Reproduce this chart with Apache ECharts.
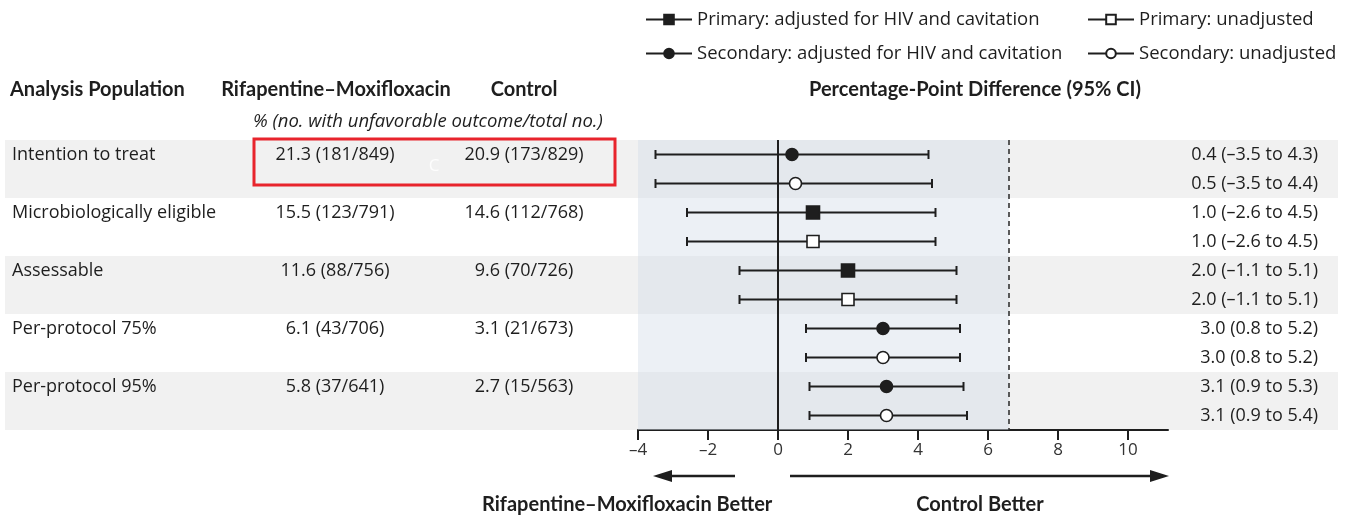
<!DOCTYPE html>
<html>
<head>
<meta charset="utf-8">
<script src="https://cdn.jsdelivr.net/npm/echarts@6/dist/echarts.min.js"></script>
<style>html,body{margin:0;padding:0;background:#fff}#c{width:1350px;height:522px}</style>
</head>
<body>
<div id="c"></div>
<script>
// ---- data ----
const populations = ['Intention to treat', 'Microbiologically eligible', 'Assessable', 'Per-protocol 75%', 'Per-protocol 95%'];
const rifaPct = [21.3, 15.5, 11.6, 6.1, 5.8];
const rifaEvents = [181, 123, 88, 43, 37];
const rifaTotal = [849, 791, 756, 706, 641];
const ctrlPct = [20.9, 14.6, 9.6, 3.1, 2.7];
const ctrlEvents = [173, 112, 70, 21, 15];
const ctrlTotal = [829, 768, 726, 673, 563];

const seriesNames = ['Primary: adjusted for HIV and cavitation', 'Primary: unadjusted', 'Secondary: adjusted for HIV and cavitation', 'Secondary: unadjusted'];
// estimate rows: two per population
const rowType = [2, 3, 0, 1, 0, 1, 2, 3, 2, 3];
const diff = [0.4, 0.5, 1.0, 1.0, 2.0, 2.0, 3.0, 3.0, 3.1, 3.1];
const lower = [-3.5, -3.5, -2.6, -2.6, -1.1, -1.1, 0.8, 0.8, 0.9, 0.9];
const upper = [4.3, 4.4, 4.5, 4.5, 5.1, 5.1, 5.2, 5.2, 5.3, 5.4];
const xTicks = [-4, -2, 0, 2, 4, 6, 8, 10];
const margin = 6.6;
const shadedBands = [0, 2, 4]; // population indices with grey background

// ---- layout ----
const FONT = '"Open Sans"';
const HFONT = 'Lato';
const GRID_LEFT = 638, GRID_TOP = 140, GRID_W = 530, GRID_H = 290;
const PX_PER_UNIT = 35;
const X_MIN = -4, X_MAX = X_MIN + GRID_W / PX_PER_UNIT;
const BAND_LEFT = 5, BAND_RIGHT = 1338;
const INK = '#1e1e1e';
const BODY = 18;

const dash = s => String(s).replace('-', '\u2013');
const fmt = v => dash(v.toFixed(1));
const rows = diff.map((_, i) => String(i));

const leftLabels = rows.map((r, i) => {
  if (i % 2) return '';
  const g = i / 2;
  return '{a|' + populations[g] + '}{b|' + rifaPct[g].toFixed(1) + ' (' + rifaEvents[g] + '/' + rifaTotal[g] + ')}{c|' +
    ctrlPct[g].toFixed(1) + ' (' + ctrlEvents[g] + '/' + ctrlTotal[g] + ')}';
});
const rightLabels = diff.map((d, i) => fmt(d) + ' (' + fmt(lower[i]) + ' to ' + fmt(upper[i]) + ')');

const markerDefs = [
  { symbol: 'rect', size: 13, fill: INK },
  { symbol: 'rect', size: 12, fill: '#fff' },
  { symbol: 'circle', size: 12, fill: INK },
  { symbol: 'circle', size: 12, fill: '#fff' }
];

const pointSeries = seriesNames.map((name, t) => ({
  name: name,
  type: 'line',
  z: 4,
  symbol: markerDefs[t].symbol,
  symbolSize: markerDefs[t].size,
  showAllSymbol: true,
  lineStyle: { opacity: 0 },
  itemStyle: { color: markerDefs[t].fill, borderColor: INK, borderWidth: 1.6, opacity: 1 },
  emphasis: { disabled: true },
  data: diff.map((d, i) => [d, i]).filter((_, i) => rowType[i] === t)
}));
// reference lines and shaded non-inferiority region
pointSeries[0].markArea = {
  silent: true,
  itemStyle: { color: 'rgba(212,221,232,0.45)' },
  data: [[{ xAxis: X_MIN }, { xAxis: margin }]]
};
pointSeries[0].markLine = {
  silent: true, symbol: 'none', label: { show: false }, animation: false,
  data: [
    { xAxis: 0, lineStyle: { color: INK, width: 2, type: 'solid' } },
    { xAxis: margin, lineStyle: { color: '#333', width: 1.6, type: [5, 4] } }
  ]
};

const chart = echarts.init(document.getElementById('c'), null, { renderer: 'canvas' });

const textStyle = { fontFamily: FONT, fontSize: 18.5, color: INK };

chart.setOption({
  animation: false,
  textStyle: { fontFamily: FONT },
  grid: { left: GRID_LEFT, top: GRID_TOP, width: GRID_W, height: GRID_H, containLabel: false },
  legend: [
    {
      data: [seriesNames[0], seriesNames[2]], orient: 'vertical', left: 640, top: 5,
      itemWidth: 46, itemHeight: 12, itemGap: 15, textStyle: textStyle,
      lineStyle: { width: 2, color: INK, opacity: 1 }, selectedMode: false
    },
    {
      data: [seriesNames[1], seriesNames[3]], orient: 'vertical', left: 1082, top: 5,
      itemWidth: 46, itemHeight: 12, itemGap: 15, textStyle: textStyle,
      lineStyle: { width: 2, color: INK, opacity: 1 }, selectedMode: false
    }
  ],
  xAxis: {
    type: 'value', min: X_MIN, max: X_MAX,
    splitLine: { show: false },
    axisLine: { show: true, lineStyle: { color: INK, width: 2 } },
    axisTick: { show: true, customValues: xTicks, length: 10, lineStyle: { color: INK, width: 2 } },
    axisLabel: { customValues: xTicks, formatter: v => dash(v), margin: 12, fontFamily: FONT, fontSize: 17, color: '#333' }
  },
  yAxis: [
    {
      type: 'category', data: rows, inverse: true,
      axisLine: { show: false }, axisTick: { show: false }, splitLine: { show: false },
      axisLabel: {
        interval: 0, align: 'left', margin: GRID_LEFT - 12,
        formatter: (v, i) => leftLabels[i],
        rich: {
          a: { fontFamily: FONT, fontSize: BODY, color: INK, width: 210, align: 'left' },
          b: { fontFamily: FONT, fontSize: BODY, color: INK, width: 226, align: 'center' },
          c: { fontFamily: FONT, fontSize: BODY, color: INK, width: 152, align: 'center' }
        }
      }
    },
    {
      type: 'category', data: rows, inverse: true, position: 'right',
      axisLine: { show: false }, axisTick: { show: false }, splitLine: { show: false },
      axisLabel: {
        interval: 0, align: 'right', margin: 1318 - (GRID_LEFT + GRID_W),
        formatter: (v, i) => rightLabels[i], fontFamily: FONT, fontSize: BODY, color: INK
      }
    }
  ],
  series: [
    {
      type: 'custom', z: 0, silent: true, clip: false,
      encode: { x: 0, y: 1 },
      data: shadedBands.map(g => [0, g * 2]),
      renderItem: (params, api) => {
        const row = api.value(1);
        const h = api.size([0, 1])[1];
        const yTop = api.coord([0, row])[1] - h / 2;
        return { type: 'rect', shape: { x: BAND_LEFT, y: yTop, width: BAND_RIGHT - BAND_LEFT, height: h * 2 }, style: { fill: '#f1f1f1' } };
      }
    },
    {
      type: 'custom', z: 3, silent: true, clip: false,
      encode: { x: [0, 1], y: 2 },
      data: lower.map((l, i) => [l, upper[i], i]),
      renderItem: (params, api) => {
        const p1 = api.coord([api.value(0), api.value(2)]);
        const p2 = api.coord([api.value(1), api.value(2)]);
        const cap = 4.5;
        const st = { stroke: INK, lineWidth: 2 };
        return {
          type: 'group', children: [
            { type: 'line', shape: { x1: p1[0], y1: p1[1], x2: p2[0], y2: p2[1] }, style: st },
            { type: 'line', shape: { x1: p1[0], y1: p1[1] - cap, x2: p1[0], y2: p1[1] + cap }, style: st },
            { type: 'line', shape: { x1: p2[0], y1: p2[1] - cap, x2: p2[0], y2: p2[1] + cap }, style: st }
          ]
        };
      }
    }
  ].concat(pointSeries),
  graphic: [
    { type: 'text', x: 10, y: 90, style: { text: 'Analysis Population', font: 'bold 20px ' + HFONT, fill: INK, verticalAlign: 'middle' } },
    { type: 'text', x: 336, y: 90, style: { text: 'Rifapentine\u2013Moxifloxacin', font: 'bold 20px ' + HFONT, fill: INK, align: 'center', verticalAlign: 'middle' } },
    { type: 'text', x: 524, y: 90, style: { text: 'Control', font: 'bold 20px ' + HFONT, fill: INK, align: 'center', verticalAlign: 'middle' } },
    { type: 'text', x: 253, y: 122, style: { text: '% (no. with unfavorable outcome/total no.)', font: 'italic 18.5px ' + FONT, fill: INK, verticalAlign: 'middle' } },
    { type: 'text', x: 975, y: 90, style: { text: 'Percentage-Point Difference (95% CI)', font: 'bold 20px ' + HFONT, fill: INK, align: 'center', verticalAlign: 'middle' } },
    // direction arrows
    { type: 'line', shape: { x1: 735, y1: 476, x2: 668, y2: 476 }, style: { stroke: INK, lineWidth: 2.5 } },
    { type: 'polygon', shape: { points: [[653, 476], [672, 470], [672, 482]] }, style: { fill: INK } },
    { type: 'line', shape: { x1: 790, y1: 476, x2: 1155, y2: 476 }, style: { stroke: INK, lineWidth: 2.5 } },
    { type: 'polygon', shape: { points: [[1169, 476], [1150, 470], [1150, 482]] }, style: { fill: INK } },
    { type: 'text', x: 482, y: 505, style: { text: 'Rifapentine\u2013Moxifloxacin Better', font: 'bold 20px ' + HFONT, fill: INK, align: 'left', verticalAlign: 'middle' } },
    { type: 'text', x: 980, y: 505, style: { text: 'Control Better', font: 'bold 20px ' + HFONT, fill: INK, align: 'center', verticalAlign: 'middle' } },
    // annotation box
    { type: 'rect', z: 10, shape: { x: 254, y: 139, width: 361, height: 46 }, style: { fill: 'none', stroke: '#e8242c', lineWidth: 3 } },
    { type: 'text', z: 10, x: 434, y: 166, style: { text: 'C', font: '17px ' + FONT, fill: 'rgba(255,255,255,0.85)', align: 'center', verticalAlign: 'middle' } }
  ]
});
</script>
</body>
</html>
